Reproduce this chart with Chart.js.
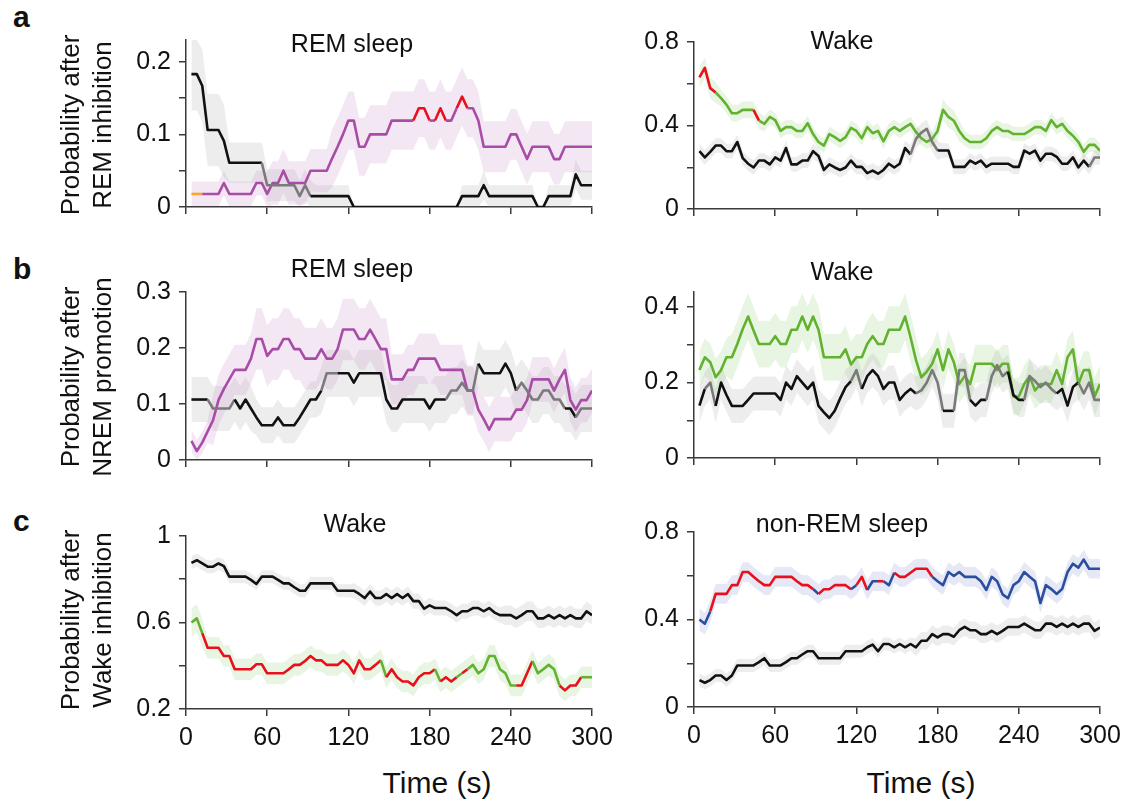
<!DOCTYPE html>
<html>
<head>
<meta charset="utf-8">
<script src="https://cdn.jsdelivr.net/npm/chart.js@4.4.1/dist/chart.umd.min.js"></script>
<style>
  body { margin: 0; background: #fff; }
  #fig { position: relative; width: 1127px; height: 803px; overflow: hidden;
         font-family: "Liberation Sans", Arial, sans-serif; color: #111; }
  #fig canvas { position: absolute; }
  .txt { position: absolute; white-space: nowrap; line-height: 1; }
  .letter { font-weight: bold; font-size: 30px; }
  .ttl { font-size: 25px; transform: translate(-50%, -50%); }
  .xt { font-size: 30px; transform: translate(-50%, -50%); }
  .ylab { font-size: 26px; line-height: 32px; width: 260px; height: 64px; text-align: center;
          transform: rotate(-90deg); }
</style>
</head>
<body>
<div id="fig"></div>
<script>
// time bins (s)
const times = [4, 8, 12, 16, 20, 24, 28, 32, 36, 40, 44, 48, 52, 56, 60, 64, 68, 72, 76, 80,
  84, 88, 92, 96, 100, 104, 108, 112, 116, 120, 124, 128, 132, 136, 140, 144, 148, 152, 156, 160,
  164, 168, 172, 176, 180, 184, 188, 192, 196, 200, 204, 208, 212, 216, 220, 224, 228, 232, 236, 240,
  244, 248, 252, 256, 260, 264, 268, 272, 276, 280, 284, 288, 292, 296, 300];
const xTicks = [0, 60, 120, 180, 240, 300];
const xLabels = ['0', '60', '120', '180', '240', '300'];

// a: REM inhibition
const aLeftBlack = [0.183, 0.183, 0.167, 0.106, 0.106, 0.106, 0.091, 0.061, 0.061, 0.061,
  0.061, 0.061, 0.061, 0.061, 0.03, 0.03, 0.03, 0.03, 0.03, 0.03,
  0.015, 0.03, 0.015, 0.015, 0.015, 0.015, 0.015, 0.015, 0.015, 0.015,
  0, 0, 0, 0, 0, 0, 0, 0, 0, 0,
  0, 0, 0, 0, 0, 0, 0, 0, 0, 0,
  0.015, 0.015, 0.015, 0.015, 0.03, 0.015, 0.015, 0.015, 0.015, 0.015,
  0.015, 0.015, 0.015, 0.015, 0, 0, 0.015, 0.015, 0.015, 0.015,
  0.015, 0.045, 0.03, 0.03, 0.03];
const aLeftBlackSem = [0.05, 0.05, 0.05, 0.05, 0.05, 0.05, 0.05, 0.028, 0.028, 0.028,
  0.028, 0.028, 0.028, 0.028, 0.022, 0.022, 0.022, 0.022, 0.022, 0.022,
  0.022, 0.022, 0.022, 0.015, 0.015, 0.015, 0.015, 0.015, 0.015, 0.015,
  0, 0, 0, 0, 0, 0, 0, 0, 0, 0,
  0, 0, 0, 0, 0, 0, 0, 0, 0, 0,
  0.015, 0.015, 0.015, 0.015, 0.02, 0.015, 0.015, 0.015, 0.015, 0.015,
  0.015, 0.015, 0.015, 0.015, 0, 0, 0.015, 0.015, 0.015, 0.015,
  0.015, 0.02, 0.02, 0.02, 0.02];
const aLeftPurple = [0.018, 0.018, 0.018, 0.018, 0.018, 0.018, 0.033, 0.018, 0.018, 0.018,
  0.018, 0.018, 0.033, 0.033, 0.018, 0.033, 0.033, 0.05, 0.033, 0.033,
  0.033, 0.033, 0.05, 0.05, 0.05, 0.05, 0.067, 0.083, 0.1, 0.119,
  0.119, 0.083, 0.083, 0.1, 0.1, 0.1, 0.1, 0.119, 0.119, 0.119,
  0.119, 0.119, 0.136, 0.136, 0.119, 0.119, 0.136, 0.119, 0.119, 0.136,
  0.152, 0.136, 0.136, 0.119, 0.083, 0.083, 0.083, 0.083, 0.083, 0.1,
  0.1, 0.083, 0.066, 0.083, 0.083, 0.083, 0.083, 0.066, 0.066, 0.083,
  0.083, 0.083, 0.083, 0.083, 0.083];
const aLeftPurpleSem = [0.017, 0.017, 0.017, 0.017, 0.017, 0.017, 0.017, 0.017, 0.017, 0.017,
  0.017, 0.017, 0.017, 0.017, 0.03, 0.03, 0.03, 0.03, 0.03, 0.03,
  0.03, 0.03, 0.03, 0.03, 0.03, 0.03, 0.04, 0.04, 0.04, 0.04,
  0.04, 0.04, 0.04, 0.04, 0.04, 0.04, 0.04, 0.04, 0.04, 0.04,
  0.04, 0.04, 0.04, 0.04, 0.04, 0.04, 0.04, 0.04, 0.04, 0.04,
  0.04, 0.04, 0.04, 0.04, 0.035, 0.035, 0.035, 0.035, 0.035, 0.035,
  0.035, 0.035, 0.035, 0.035, 0.035, 0.035, 0.035, 0.035, 0.035, 0.035,
  0.035, 0.035, 0.035, 0.035, 0.035];
const aLeftBlackGray = [[58, 92]];
const aLeftPurpleRed = [[170, 181], [184, 193], [199, 209]];
const aLeftPurpleOrange = [[4, 12]];

const aRightGreen = [0.631, 0.676, 0.579, 0.558, 0.531, 0.5, 0.459, 0.459, 0.475, 0.475,
  0.475, 0.423, 0.408, 0.441, 0.426, 0.374, 0.392, 0.392, 0.374, 0.374,
  0.411, 0.359, 0.321, 0.304, 0.359, 0.344, 0.326, 0.344, 0.389, 0.374,
  0.339, 0.392, 0.363, 0.374, 0.324, 0.374, 0.392, 0.374, 0.392, 0.408,
  0.369, 0.339, 0.321, 0.336, 0.374, 0.475, 0.441, 0.423, 0.374, 0.339,
  0.321, 0.321, 0.321, 0.339, 0.374, 0.392, 0.374, 0.374, 0.359, 0.359,
  0.359, 0.374, 0.392, 0.392, 0.374, 0.426, 0.392, 0.408, 0.374, 0.351,
  0.321, 0.274, 0.307, 0.307, 0.28];
const aRightGreenSem = [0.05, 0.05, 0.05, 0.05, 0.04, 0.04, 0.04, 0.04, 0.04, 0.04,
  0.04, 0.04, 0.035, 0.035, 0.035, 0.035, 0.035, 0.035, 0.035, 0.035,
  0.035, 0.035, 0.035, 0.035, 0.035, 0.035, 0.035, 0.035, 0.035, 0.035,
  0.035, 0.035, 0.035, 0.035, 0.035, 0.035, 0.035, 0.035, 0.035, 0.035,
  0.035, 0.035, 0.035, 0.035, 0.05, 0.05, 0.05, 0.05, 0.05, 0.035,
  0.035, 0.035, 0.035, 0.035, 0.035, 0.035, 0.035, 0.035, 0.035, 0.035,
  0.035, 0.035, 0.035, 0.035, 0.035, 0.035, 0.035, 0.035, 0.035, 0.035,
  0.035, 0.035, 0.035, 0.035, 0.035];
const aRightBlack = [0.277, 0.247, 0.274, 0.304, 0.304, 0.277, 0.277, 0.321, 0.244, 0.217,
  0.199, 0.232, 0.232, 0.214, 0.247, 0.232, 0.292, 0.214, 0.214, 0.232,
  0.232, 0.277, 0.254, 0.187, 0.214, 0.199, 0.187, 0.199, 0.232, 0.202,
  0.202, 0.172, 0.184, 0.169, 0.187, 0.217, 0.199, 0.217, 0.292, 0.262,
  0.336, 0.366, 0.384, 0.321, 0.28, 0.28, 0.28, 0.202, 0.202, 0.202,
  0.232, 0.217, 0.232, 0.202, 0.217, 0.217, 0.217, 0.217, 0.202, 0.202,
  0.28, 0.265, 0.28, 0.232, 0.265, 0.265, 0.25, 0.217, 0.217, 0.247,
  0.199, 0.232, 0.202, 0.247, 0.247];
const aRightBlackSem = [0.035, 0.035, 0.035, 0.035, 0.035, 0.035, 0.035, 0.035, 0.035, 0.035,
  0.035, 0.035, 0.035, 0.035, 0.035, 0.035, 0.035, 0.035, 0.035, 0.035,
  0.035, 0.035, 0.035, 0.035, 0.035, 0.035, 0.035, 0.035, 0.035, 0.035,
  0.035, 0.035, 0.035, 0.035, 0.035, 0.035, 0.035, 0.035, 0.035, 0.045,
  0.045, 0.045, 0.045, 0.045, 0.045, 0.035, 0.035, 0.035, 0.035, 0.035,
  0.035, 0.035, 0.035, 0.035, 0.035, 0.035, 0.035, 0.035, 0.035, 0.035,
  0.035, 0.035, 0.035, 0.035, 0.035, 0.035, 0.035, 0.035, 0.035, 0.035,
  0.035, 0.035, 0.035, 0.035, 0.035];
const aRightGreenRed = [[4, 17], [44, 49]];
const aRightBlackGray = [[160, 178], [294, 300]];

// b: NREM promotion
const bLeftBlack = [0.108, 0.108, 0.108, 0.108, 0.092, 0.092, 0.092, 0.092, 0.108, 0.092,
  0.108, 0.092, 0.076, 0.062, 0.062, 0.062, 0.076, 0.062, 0.062, 0.062,
  0.076, 0.092, 0.108, 0.108, 0.124, 0.155, 0.155, 0.155, 0.155, 0.155,
  0.138, 0.155, 0.155, 0.155, 0.155, 0.155, 0.108, 0.092, 0.092, 0.108,
  0.108, 0.108, 0.108, 0.108, 0.092, 0.108, 0.108, 0.108, 0.124, 0.124,
  0.138, 0.124, 0.124, 0.172, 0.155, 0.155, 0.155, 0.155, 0.172, 0.155,
  0.124, 0.138, 0.124, 0.108, 0.108, 0.124, 0.124, 0.108, 0.108, 0.092,
  0.092, 0.076, 0.092, 0.092, 0.092];
const bLeftBlackSem = [0.04, 0.04, 0.04, 0.04, 0.04, 0.04, 0.04, 0.04, 0.04, 0.04,
  0.04, 0.04, 0.032, 0.032, 0.032, 0.032, 0.032, 0.032, 0.032, 0.032,
  0.032, 0.032, 0.032, 0.032, 0.042, 0.042, 0.042, 0.042, 0.042, 0.042,
  0.042, 0.042, 0.042, 0.042, 0.042, 0.042, 0.042, 0.042, 0.042, 0.042,
  0.042, 0.042, 0.042, 0.042, 0.042, 0.042, 0.042, 0.042, 0.042, 0.042,
  0.042, 0.042, 0.042, 0.042, 0.042, 0.042, 0.042, 0.042, 0.042, 0.042,
  0.042, 0.042, 0.042, 0.042, 0.042, 0.042, 0.042, 0.042, 0.042, 0.042,
  0.042, 0.042, 0.042, 0.042, 0.042];
const bLeftPurple = [0.034, 0.016, 0.031, 0.051, 0.071, 0.107, 0.127, 0.144, 0.161, 0.161,
  0.161, 0.181, 0.216, 0.216, 0.186, 0.198, 0.198, 0.216, 0.216, 0.198,
  0.198, 0.181, 0.181, 0.181, 0.198, 0.181, 0.181, 0.198, 0.233, 0.233,
  0.233, 0.216, 0.216, 0.233, 0.216, 0.198, 0.198, 0.144, 0.144, 0.144,
  0.161, 0.161, 0.181, 0.181, 0.181, 0.181, 0.161, 0.161, 0.161, 0.161,
  0.161, 0.124, 0.124, 0.09, 0.073, 0.054, 0.073, 0.073, 0.073, 0.073,
  0.09, 0.09, 0.107, 0.144, 0.144, 0.144, 0.144, 0.124, 0.144, 0.161,
  0.107, 0.09, 0.107, 0.107, 0.124];
const bLeftPurpleSem = [0.02, 0.02, 0.02, 0.02, 0.045, 0.045, 0.045, 0.045, 0.045, 0.045,
  0.045, 0.045, 0.055, 0.055, 0.055, 0.055, 0.055, 0.055, 0.055, 0.055,
  0.055, 0.055, 0.055, 0.055, 0.055, 0.055, 0.055, 0.055, 0.055, 0.055,
  0.055, 0.055, 0.055, 0.055, 0.055, 0.055, 0.055, 0.045, 0.045, 0.045,
  0.045, 0.045, 0.045, 0.045, 0.045, 0.045, 0.045, 0.045, 0.045, 0.045,
  0.045, 0.045, 0.045, 0.04, 0.04, 0.04, 0.04, 0.04, 0.04, 0.04,
  0.04, 0.04, 0.04, 0.04, 0.04, 0.04, 0.04, 0.04, 0.04, 0.04,
  0.04, 0.04, 0.04, 0.04, 0.04];
const bLeftBlackGray = [[18, 34], [102, 110], [194, 214], [246, 280], [290, 300]];

const bRightGreen = [0.233, 0.267, 0.254, 0.214, 0.233, 0.267, 0.267, 0.302, 0.342, 0.375,
  0.338, 0.302, 0.302, 0.302, 0.323, 0.302, 0.302, 0.34, 0.34, 0.375,
  0.34, 0.375, 0.34, 0.267, 0.267, 0.267, 0.267, 0.288, 0.248, 0.267,
  0.267, 0.302, 0.323, 0.302, 0.302, 0.34, 0.34, 0.34, 0.375, 0.32,
  0.26, 0.214, 0.229, 0.25, 0.288, 0.233, 0.288, 0.254, 0.196, 0.217,
  0.196, 0.25, 0.25, 0.25, 0.25, 0.233, 0.25, 0.25, 0.163, 0.163,
  0.196, 0.217, 0.179, 0.196, 0.196, 0.196, 0.233, 0.196, 0.267, 0.288,
  0.196, 0.233, 0.233, 0.163, 0.196];
const bRightGreenSem = [0.05, 0.05, 0.05, 0.05, 0.05, 0.05, 0.062, 0.062, 0.062, 0.062,
  0.062, 0.062, 0.062, 0.062, 0.062, 0.062, 0.062, 0.062, 0.062, 0.062,
  0.062, 0.062, 0.062, 0.062, 0.062, 0.062, 0.062, 0.062, 0.062, 0.062,
  0.062, 0.062, 0.062, 0.062, 0.062, 0.062, 0.062, 0.062, 0.062, 0.062,
  0.062, 0.05, 0.05, 0.05, 0.05, 0.05, 0.05, 0.05, 0.05, 0.05,
  0.05, 0.05, 0.05, 0.05, 0.05, 0.05, 0.05, 0.05, 0.05, 0.05,
  0.05, 0.05, 0.05, 0.05, 0.05, 0.05, 0.05, 0.05, 0.05, 0.05,
  0.05, 0.05, 0.05, 0.05, 0.05];
const bRightBlack = [0.139, 0.183, 0.2, 0.138, 0.2, 0.167, 0.138, 0.138, 0.138, 0.154,
  0.171, 0.171, 0.171, 0.171, 0.171, 0.154, 0.2, 0.183, 0.217, 0.2,
  0.183, 0.2, 0.138, 0.121, 0.106, 0.125, 0.158, 0.188, 0.204, 0.233,
  0.183, 0.217, 0.233, 0.217, 0.183, 0.2, 0.2, 0.154, 0.171, 0.183,
  0.171, 0.179, 0.2, 0.233, 0.2, 0.125, 0.125, 0.125, 0.233, 0.233,
  0.154, 0.139, 0.154, 0.154, 0.217, 0.246, 0.217, 0.229, 0.167, 0.154,
  0.154, 0.217, 0.204, 0.188, 0.2, 0.183, 0.171, 0.183, 0.139, 0.188,
  0.2, 0.171, 0.2, 0.154, 0.154];
const bRightBlackSem = [0.045, 0.045, 0.045, 0.045, 0.045, 0.045, 0.045, 0.045, 0.045, 0.045,
  0.045, 0.045, 0.045, 0.045, 0.045, 0.045, 0.045, 0.045, 0.045, 0.045,
  0.045, 0.045, 0.045, 0.045, 0.045, 0.045, 0.045, 0.045, 0.045, 0.045,
  0.045, 0.045, 0.045, 0.045, 0.045, 0.045, 0.045, 0.045, 0.045, 0.045,
  0.045, 0.045, 0.045, 0.045, 0.045, 0.045, 0.045, 0.045, 0.045, 0.045,
  0.045, 0.045, 0.045, 0.045, 0.045, 0.045, 0.045, 0.045, 0.045, 0.045,
  0.045, 0.045, 0.045, 0.045, 0.045, 0.045, 0.045, 0.045, 0.045, 0.045,
  0.045, 0.045, 0.045, 0.045, 0.045];
const bRightBlackGray = [[8, 16], [116, 124], [164, 182], [194, 204], [216, 232], [244, 266], [284, 300]];

// c: Wake inhibition
const cLeftBlack = [0.876, 0.888, 0.873, 0.858, 0.858, 0.873, 0.861, 0.812, 0.812, 0.812,
  0.812, 0.797, 0.778, 0.812, 0.812, 0.812, 0.797, 0.781, 0.781, 0.763,
  0.747, 0.747, 0.781, 0.781, 0.781, 0.781, 0.781, 0.747, 0.747, 0.747,
  0.747, 0.732, 0.713, 0.743, 0.713, 0.713, 0.731, 0.713, 0.731, 0.713,
  0.731, 0.699, 0.699, 0.664, 0.679, 0.667, 0.667, 0.667, 0.652, 0.634,
  0.652, 0.652, 0.667, 0.667, 0.652, 0.667, 0.646, 0.634, 0.634, 0.634,
  0.619, 0.634, 0.652, 0.652, 0.619, 0.619, 0.634, 0.619, 0.634, 0.619,
  0.634, 0.619, 0.619, 0.652, 0.634];
const cLeftBlackSem = [0.03, 0.03, 0.03, 0.03, 0.03, 0.03, 0.03, 0.03, 0.03, 0.03,
  0.03, 0.03, 0.03, 0.03, 0.03, 0.03, 0.03, 0.03, 0.03, 0.03,
  0.03, 0.03, 0.03, 0.03, 0.03, 0.03, 0.03, 0.03, 0.03, 0.03,
  0.035, 0.035, 0.035, 0.035, 0.035, 0.035, 0.035, 0.035, 0.035, 0.035,
  0.035, 0.035, 0.035, 0.035, 0.035, 0.035, 0.035, 0.035, 0.035, 0.035,
  0.035, 0.035, 0.035, 0.035, 0.035, 0.035, 0.035, 0.035, 0.045, 0.045,
  0.045, 0.045, 0.045, 0.045, 0.045, 0.045, 0.045, 0.045, 0.045, 0.045,
  0.045, 0.045, 0.045, 0.045, 0.045];
const cLeftWake = [0.6, 0.619, 0.551, 0.483, 0.483, 0.483, 0.445, 0.445, 0.384, 0.384,
  0.384, 0.384, 0.407, 0.407, 0.365, 0.365, 0.365, 0.365, 0.384, 0.404,
  0.404, 0.422, 0.445, 0.425, 0.425, 0.404, 0.404, 0.404, 0.425, 0.404,
  0.365, 0.425, 0.384, 0.384, 0.404, 0.425, 0.347, 0.384, 0.347, 0.327,
  0.327, 0.309, 0.347, 0.365, 0.365, 0.384, 0.327, 0.347, 0.327, 0.347,
  0.365, 0.384, 0.404, 0.365, 0.384, 0.445, 0.445, 0.384, 0.365, 0.309,
  0.309, 0.309, 0.365, 0.422, 0.365, 0.384, 0.404, 0.384, 0.309, 0.286,
  0.309, 0.309, 0.347, 0.347, 0.347];
const cLeftWakeSem = [0.065, 0.065, 0.065, 0.05, 0.05, 0.05, 0.05, 0.05, 0.05, 0.05,
  0.05, 0.05, 0.05, 0.05, 0.05, 0.05, 0.05, 0.05, 0.05, 0.05,
  0.05, 0.05, 0.05, 0.05, 0.05, 0.05, 0.05, 0.05, 0.05, 0.05,
  0.05, 0.05, 0.05, 0.05, 0.05, 0.05, 0.05, 0.05, 0.05, 0.05,
  0.05, 0.05, 0.05, 0.05, 0.05, 0.05, 0.05, 0.05, 0.05, 0.05,
  0.05, 0.05, 0.05, 0.05, 0.05, 0.05, 0.05, 0.05, 0.05, 0.05,
  0.05, 0.05, 0.05, 0.05, 0.05, 0.05, 0.05, 0.05, 0.05, 0.05,
  0.05, 0.05, 0.05, 0.05, 0.05];
const cLeftWakeGreen = [[4, 12], [143, 149], [184, 189], [199, 204], [207, 244], [256, 277], [292, 300]];

const cRightNrem = [0.4, 0.381, 0.437, 0.517, 0.517, 0.517, 0.557, 0.557, 0.617, 0.617,
  0.595, 0.575, 0.557, 0.557, 0.595, 0.595, 0.595, 0.595, 0.575, 0.557,
  0.557, 0.539, 0.517, 0.538, 0.538, 0.557, 0.557, 0.557, 0.538, 0.557,
  0.595, 0.535, 0.575, 0.575, 0.575, 0.557, 0.614, 0.595, 0.595, 0.614,
  0.632, 0.632, 0.632, 0.595, 0.575, 0.557, 0.617, 0.599, 0.617, 0.595,
  0.595, 0.595, 0.575, 0.535, 0.595, 0.575, 0.515, 0.497, 0.557, 0.575,
  0.617, 0.595, 0.575, 0.475, 0.557, 0.539, 0.517, 0.539, 0.617, 0.655,
  0.637, 0.674, 0.632, 0.632, 0.632];
const cRightNremSem = [0.05, 0.05, 0.05, 0.045, 0.045, 0.045, 0.045, 0.045, 0.045, 0.045,
  0.045, 0.045, 0.045, 0.045, 0.045, 0.045, 0.045, 0.045, 0.045, 0.045,
  0.045, 0.045, 0.045, 0.045, 0.045, 0.045, 0.045, 0.045, 0.045, 0.045,
  0.045, 0.045, 0.045, 0.045, 0.045, 0.045, 0.045, 0.045, 0.045, 0.045,
  0.045, 0.045, 0.045, 0.045, 0.045, 0.045, 0.045, 0.045, 0.045, 0.045,
  0.045, 0.045, 0.045, 0.045, 0.045, 0.045, 0.045, 0.045, 0.045, 0.045,
  0.045, 0.045, 0.045, 0.045, 0.045, 0.045, 0.045, 0.045, 0.045, 0.045,
  0.045, 0.045, 0.045, 0.045, 0.045];
const cRightBlack = [0.123, 0.111, 0.123, 0.144, 0.144, 0.123, 0.144, 0.19, 0.19, 0.19,
  0.19, 0.205, 0.223, 0.19, 0.19, 0.19, 0.205, 0.223, 0.223, 0.24,
  0.255, 0.255, 0.223, 0.223, 0.223, 0.223, 0.223, 0.255, 0.255, 0.255,
  0.255, 0.273, 0.285, 0.255, 0.288, 0.288, 0.273, 0.288, 0.273, 0.288,
  0.273, 0.303, 0.303, 0.333, 0.318, 0.333, 0.333, 0.321, 0.351, 0.366,
  0.351, 0.351, 0.333, 0.333, 0.348, 0.333, 0.348, 0.366, 0.366, 0.366,
  0.381, 0.366, 0.351, 0.351, 0.381, 0.381, 0.366, 0.381, 0.366, 0.381,
  0.366, 0.381, 0.381, 0.348, 0.363];
const cRightBlackSem = [0.03, 0.03, 0.03, 0.03, 0.03, 0.03, 0.03, 0.03, 0.03, 0.03,
  0.03, 0.03, 0.03, 0.03, 0.03, 0.03, 0.03, 0.03, 0.03, 0.03,
  0.03, 0.03, 0.03, 0.03, 0.03, 0.03, 0.03, 0.03, 0.03, 0.03,
  0.03, 0.03, 0.03, 0.03, 0.03, 0.03, 0.03, 0.03, 0.03, 0.03,
  0.04, 0.04, 0.04, 0.04, 0.04, 0.04, 0.04, 0.04, 0.04, 0.04,
  0.04, 0.04, 0.04, 0.04, 0.04, 0.04, 0.04, 0.04, 0.04, 0.04,
  0.04, 0.04, 0.04, 0.04, 0.04, 0.04, 0.04, 0.04, 0.04, 0.04,
  0.04, 0.04, 0.04, 0.04, 0.04];
const cRightNremRed = [[12, 88], [93, 115], [121, 128], [136, 141], [148, 176]];

// colours
const BLACK = '#111111', GRAY = '#7a7a7a', PURPLE = '#a94ca8', RED = '#e8101c',
      GREEN = '#62b22f', BLUE = '#2a4f9e', ORANGE = '#f5a830', AXIS = '#3a3a3a';
const BAND_GRAY = 'rgba(150,150,150,0.17)', BAND_PINK = 'rgba(190,110,190,0.17)',
      BAND_GREEN = 'rgba(120,195,90,0.17)', BAND_BLUE = 'rgba(90,105,190,0.15)';

Chart.defaults.font.family = '"Liberation Sans", Arial, sans-serif';
Chart.defaults.color = '#111';

const fig = document.getElementById('fig');

function segColor(base, alts) {
  return ctx => {
    const m = (ctx.p0.parsed.x + ctx.p1.parsed.x) / 2;
    for (const a of alts) {
      if (a.ranges.some(r => m >= r[0] && m <= r[1])) return a.color;
    }
    return base;
  };
}

function buildSets(series, yMin, yMax) {
  const lines = [], bands = [];
  series.forEach(s => {
    lines.push({
      data: times.map((t, i) => ({x: t, y: s.values[i]})),
      borderColor: s.color, borderWidth: 2.6, pointRadius: 0, tension: 0, fill: false,
      borderJoinStyle: 'round',
      segment: {borderColor: segColor(s.color, s.alts || [])},
      order: 0
    });
    bands.push({
      data: times.map((t, i) => ({x: t, y: Math.min(yMax, s.values[i] + s.sem[i])})),
      borderWidth: 0, pointRadius: 0, tension: 0, backgroundColor: s.band, fill: '+1', order: 10
    }, {
      data: times.map((t, i) => ({x: t, y: Math.max(yMin, s.values[i] - s.sem[i])})),
      borderWidth: 0, pointRadius: 0, tension: 0, fill: false, order: 10
    });
  });
  return lines.concat(bands);
}

function panel(rect, yMin, yMax, yTicks, yLabels, showX, series) {
  const padL = 95, padT = 20, padR = 30, padB = showX ? 45 : 16;
  const cv = document.createElement('canvas');
  cv.width = rect.r - rect.l + padL + padR;
  cv.height = rect.b - rect.t + padT + padB;
  cv.style.left = (rect.l - padL) + 'px';
  cv.style.top = (rect.t - padT) + 'px';
  fig.appendChild(cv);

  const axisGrid = {drawOnChartArea: false, drawTicks: true, tickLength: 7, color: AXIS, lineWidth: 1.5};
  const axisBorder = {display: true, color: AXIS, width: 1.5};

  new Chart(cv, {
    type: 'line',
    data: {datasets: buildSets(series, yMin, yMax)},
    options: {
      responsive: false,
      animation: false,
      devicePixelRatio: 1,
      layout: {padding: {left: 0, top: padT, right: padR, bottom: 0}},
      plugins: {legend: {display: false}, tooltip: {enabled: false}},
      scales: {
        x: {
          type: 'linear', min: 0, max: 300,
          afterBuildTicks: s => { s.ticks = xTicks.map(v => ({value: v})); },
          afterFit: s => { s.height = padB; },
          ticks: {autoSkip: false, maxRotation: 0, padding: 7, font: {size: 25},
                  callback: (v, i) => showX ? xLabels[i] : ''},
          grid: axisGrid,
          border: axisBorder
        },
        y: {
          min: yMin, max: yMax,
          afterBuildTicks: s => { s.ticks = yTicks.map(v => ({value: v})); },
          afterFit: s => { s.width = padL; },
          ticks: {padding: 8, font: {size: 25}, callback: (v, i) => yLabels[i]},
          grid: axisGrid,
          border: axisBorder
        }
      }
    }
  });
}

function text(cls, str, x, y) {
  const d = document.createElement('div');
  d.className = 'txt ' + cls;
  d.innerHTML = str;
  d.style.left = x + 'px';
  d.style.top = y + 'px';
  fig.appendChild(d);
  return d;
}

// row a
panel({l: 186, r: 592, t: 37, b: 214}, 0, 0.23, [0, 0.05, 0.1, 0.15, 0.2], ['0', '', '0.1', '', '0.2'], false, [
  {values: aLeftBlack, sem: aLeftBlackSem, color: BLACK, band: BAND_GRAY,
   alts: [{color: GRAY, ranges: aLeftBlackGray}]},
  {values: aLeftPurple, sem: aLeftPurpleSem, color: PURPLE, band: BAND_PINK,
   alts: [{color: RED, ranges: aLeftPurpleRed}, {color: ORANGE, ranges: aLeftPurpleOrange}]}
]);
panel({l: 694, r: 1100, t: 39, b: 216}, 0, 0.8, [0, 0.2, 0.4, 0.6, 0.8], ['0', '', '0.4', '', '0.8'], false, [
  {values: aRightBlack, sem: aRightBlackSem, color: BLACK, band: BAND_GRAY,
   alts: [{color: GRAY, ranges: aRightBlackGray}]},
  {values: aRightGreen, sem: aRightGreenSem, color: GREEN, band: BAND_GREEN,
   alts: [{color: RED, ranges: aRightGreenRed}]}
]);

// row b
panel({l: 186, r: 592, t: 289, b: 467}, 0, 0.3, [0, 0.1, 0.2, 0.3], ['0', '0.1', '0.2', '0.3'], false, [
  {values: bLeftBlack, sem: bLeftBlackSem, color: BLACK, band: BAND_GRAY,
   alts: [{color: GRAY, ranges: bLeftBlackGray}]},
  {values: bLeftPurple, sem: bLeftPurpleSem, color: PURPLE, band: BAND_PINK}
]);
panel({l: 694, r: 1100, t: 289, b: 465}, 0, 0.44, [0, 0.1, 0.2, 0.3, 0.4], ['0', '', '0.2', '', '0.4'], false, [
  {values: bRightBlack, sem: bRightBlackSem, color: BLACK, band: BAND_GRAY,
   alts: [{color: GRAY, ranges: bRightBlackGray}]},
  {values: bRightGreen, sem: bRightGreenSem, color: GREEN, band: BAND_GREEN}
]);

// row c
panel({l: 186, r: 592, t: 533, b: 709}, 0.2, 1, [0.2, 0.4, 0.6, 0.8, 1], ['0.2', '', '0.6', '', '1'], true, [
  {values: cLeftBlack, sem: cLeftBlackSem, color: BLACK, band: BAND_GRAY},
  {values: cLeftWake, sem: cLeftWakeSem, color: RED, band: BAND_GREEN,
   alts: [{color: GREEN, ranges: cLeftWakeGreen}]}
]);
panel({l: 694, r: 1100, t: 529, b: 707}, 0, 0.8, [0, 0.2, 0.4, 0.6, 0.8], ['0', '', '0.4', '', '0.8'], true, [
  {values: cRightBlack, sem: cRightBlackSem, color: BLACK, band: BAND_GRAY},
  {values: cRightNrem, sem: cRightNremSem, color: BLUE, band: BAND_BLUE,
   alts: [{color: RED, ranges: cRightNremRed}]}
]);

// labels
text('letter', 'a', 13, 2);
text('letter', 'b', 13, 254);
text('letter', 'c', 13, 506);

text('ttl', 'REM sleep', 352, 43);
text('ttl', 'Wake', 842, 40);
text('ttl', 'REM sleep', 352, 268);
text('ttl', 'Wake', 842, 271);
text('ttl', 'Wake', 355, 523);
text('ttl', 'non-REM sleep', 842, 523);

text('xt', 'Time (s)', 437, 783);
text('xt', 'Time (s)', 921, 783);

const yl = [['Probability after', 'REM inhibition', 125],
            ['Probability after', 'NREM promotion', 377],
            ['Probability after', 'Wake inhibition', 620]];
yl.forEach(r => {
  text('ylab', r[0] + '<br>' + r[1], 86 - 130, r[2] - 32);
});
</script>
</body>
</html>
